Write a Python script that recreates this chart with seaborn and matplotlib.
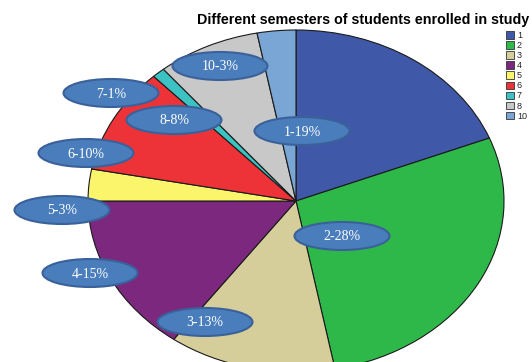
import matplotlib
matplotlib.use("Agg")
import matplotlib.pyplot as plt
from matplotlib.patches import Ellipse
import seaborn as sns

sns.set_theme(style="white")
plt.rcParams['font.family'] = ['Liberation Sans', 'DejaVu Sans']

# ---- data ----
semesters = ["1", "2", "3", "4", "5", "6", "7", "8", "10"]
percents = [19, 28, 13, 15, 3, 10, 1, 8, 3]
colors = ["#3F58A8", "#2EB84A", "#D6CE9A", "#7B287E", "#FBF56C",
          "#EE3338", "#3CC2C2", "#C8C8C8", "#79A6D5"]
title = "Different semesters of students enrolled in study"

# label bubble layout (pixel centres, top-left origin)
label_pos = {"1": (302, 131), "2": (342, 236), "3": (205, 322), "4": (90, 273),
             "5": (62, 210), "6": (86, 153), "7": (111, 93), "8": (174, 120),
             "10": (220, 66)}

W, H = 532, 362
fig = plt.figure(figsize=(W / 100, H / 100), dpi=100)
fig.patch.set_facecolor("white")

# pie axes: elliptical pie centred at (296,201), rx=208, ry=171
cx, cy, rx, ry = 296, 201, 208, 171
ax = fig.add_axes([(cx - rx) / W, (H - cy - ry) / H, 2 * rx / W, 2 * ry / H])
wedges, _ = ax.pie(percents, colors=colors, startangle=90, counterclock=False,
                   radius=1, center=(0, 0),
                   wedgeprops=dict(edgecolor="#1a1a1a", linewidth=0.8))
ax.set_aspect("auto")
ax.set_xlim(-1, 1)
ax.set_ylim(-1, 1)
ax.axis("off")

# overlay axes in pixel coordinates for the label bubbles
ov = fig.add_axes([0, 0, 1, 1])
ov.set_xlim(0, W)
ov.set_ylim(H, 0)
ov.axis("off")
for s, p in zip(semesters, percents):
    x, y = label_pos[s]
    ov.add_patch(Ellipse((x, y), 95, 28, facecolor="#4A7DBB",
                         edgecolor="#3A619A", linewidth=1.5))
    ov.text(x, y + 1, f"{s}-{p}%", ha="center", va="center", color="white",
            fontsize=10, family=["Liberation Serif", "DejaVu Serif"])

fig.text(363 / W, 1 - 20 / H, title, ha="center", va="center",
         fontsize=10.3, fontweight="bold", color="black")

leg = fig.legend(wedges, semesters, loc="upper left",
                 bbox_to_anchor=(506 / W, 1 - 31 / H), frameon=False,
                 fontsize=6.5, handlelength=0.9, handleheight=0.9,
                 labelspacing=0.12, handletextpad=0.3, borderpad=0,
                 borderaxespad=0)
for h in leg.legend_handles:
    h.set_edgecolor("#333333")
    h.set_linewidth(0.6)

fig.savefig("out.png", dpi=100)
